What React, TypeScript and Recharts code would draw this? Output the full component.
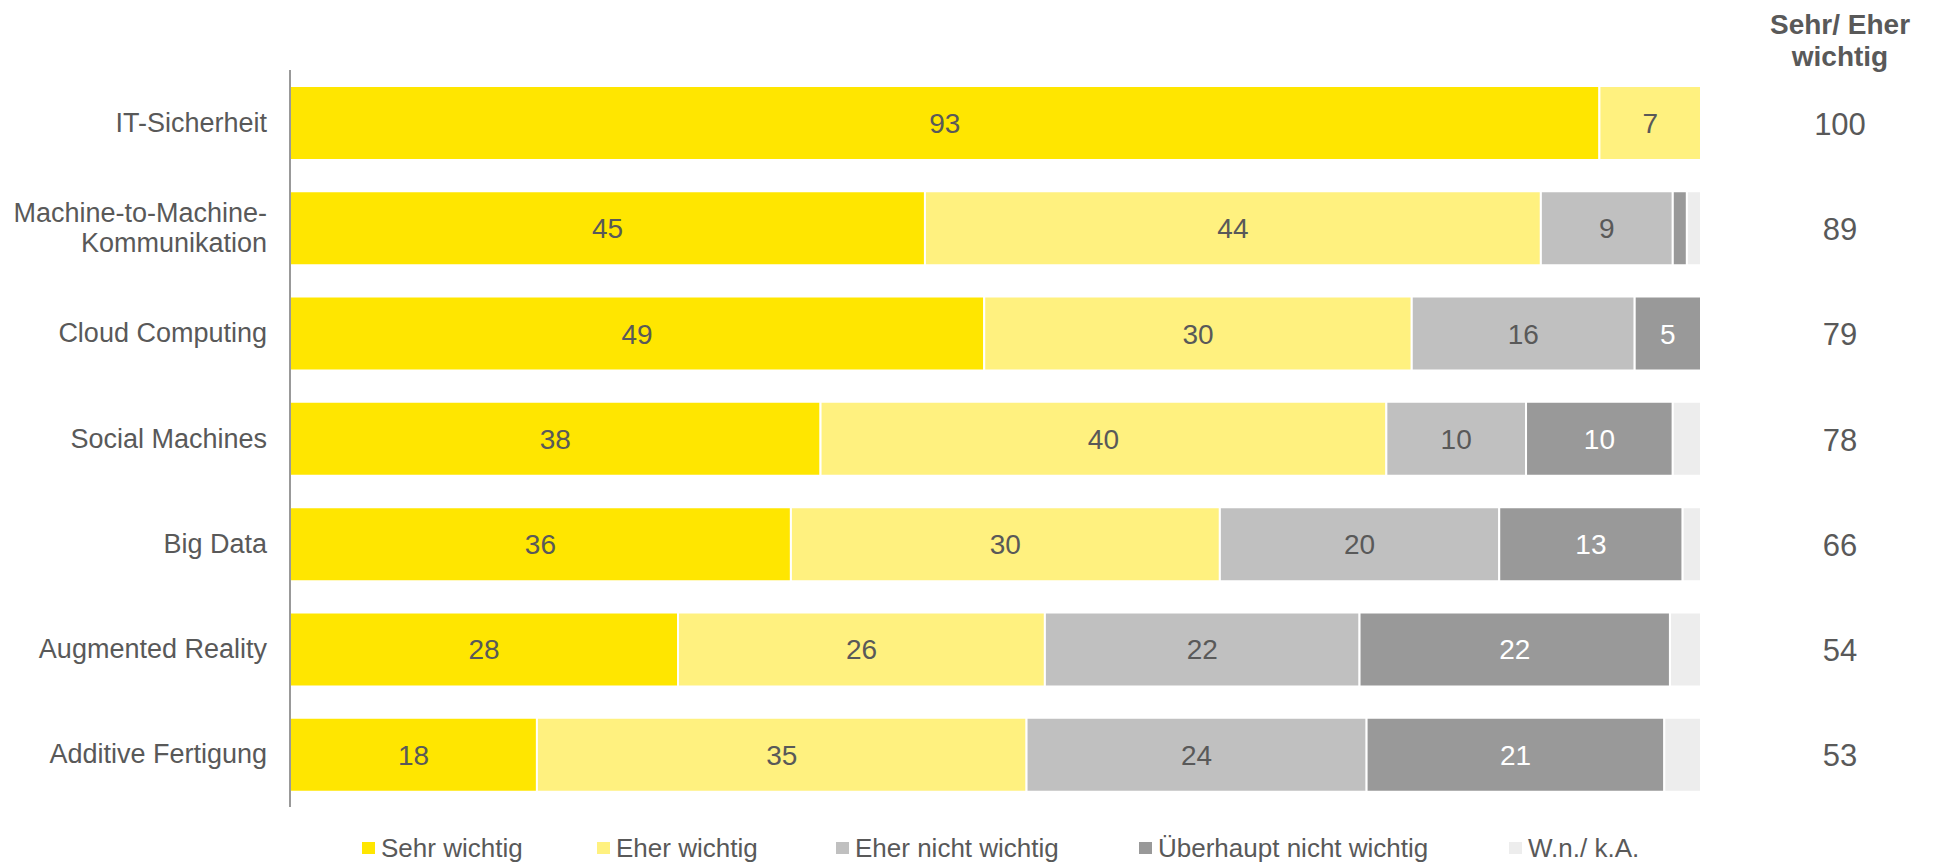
import React from "react";
import { BarChart, Bar, XAxis, YAxis, LabelList } from "recharts";

// Werte (Angaben in Prozent, Balkenlängen geschätzt)
const categories = [
  "IT-Sicherheit",
  "Machine-to-Machine-\nKommunikation",
  "Cloud Computing",
  "Social Machines",
  "Big Data",
  "Augmented Reality",
  "Additive Fertigung",
];
const sehrWichtig = [92.8, 45, 49.2, 37.6, 35.5, 27.5, 17.5];
const eherWichtig = [7.2, 43.65, 30.3, 40.1, 30.4, 26, 34.7];
const eherNichtWichtig = [0, 9.35, 15.8, 9.9, 19.8, 22.3, 24.1];
const ueberhauptNichtWichtig = [0, 1, 4.7, 10.4, 13, 22, 21.1];
const wnKa = [0, 1, 0, 2, 1.3, 2.2, 2.6];
const sehrEherWichtig = [100, 89, 79, 78, 66, 54, 53];

const seriesKeys = ["sehr", "eher", "eherNicht", "ueberhaupt", "wnka"];
const seriesNames = [
  "Sehr wichtig",
  "Eher wichtig",
  "Eher nicht wichtig",
  "Überhaupt nicht wichtig",
  "W.n./ k.A.",
];
const seriesColors = ["#FFE600", "#FFF17F", "#C0C0C0", "#999999", "#EDEDED"];
const labelColors = ["#595959", "#595959", "#595959", "#FFFFFF", "#595959"];

const data = categories.map((name, i) => ({
  name,
  sehr: sehrWichtig[i],
  eher: eherWichtig[i],
  eherNicht: eherNichtWichtig[i],
  ueberhaupt: ueberhauptNichtWichtig[i],
  wnka: wnKa[i],
}));

const FONT = "'Liberation Sans', Arial, sans-serif";
const GRAY = "#595959";

// Legendenpositionen (Textanfang), wie im Original ungleichmäßig verteilt
const legendTextX = [381, 616, 855, 1158, 1528];

const LeftTick = (props: any) => {
  const { x, y, payload } = props;
  const lines = String(payload.value).split("\n");
  const start = lines.length === 1 ? 9 : -6;
  return (
    <text x={x - 23} y={y} textAnchor="end" fontSize={27} fontFamily={FONT} fill={GRAY}>
      {lines.map((l, i) => (
        <tspan key={i} x={x - 23} y={y + start + i * 30}>
          {l}
        </tspan>
      ))}
    </text>
  );
};

const RightTick = (props: any) => {
  const { x, y, index } = props;
  return (
    <text x={x + 139} y={y + 12} textAnchor="middle" fontSize={31} fontFamily={FONT} fill={GRAY}>
      {sehrEherWichtig[index]}
    </text>
  );
};

const segmentLabel = (color: string) => (props: any) => {
  const { x, y, width, height, value } = props;
  if (value == null || value < 3) return null;
  return (
    <text
      x={x + width / 2}
      y={y + height / 2 + 10}
      textAnchor="middle"
      fontSize={28}
      fontFamily={FONT}
      fill={color}
    >
      {Math.round(value)}
    </text>
  );
};

export default function App() {
  return (
    <div
      style={{
        position: "absolute",
        left: 0,
        top: 0,
        width: 1941,
        height: 864,
        background: "#fff",
        fontFamily: FONT,
      }}
    >
      <BarChart
        width={1941}
        height={864}
        data={data}
        layout="vertical"
        margin={{ top: 70, right: 0, bottom: 57, left: 0 }}
      >
        <XAxis type="number" domain={[0, 100]} hide />
        <YAxis
          yAxisId="left"
          type="category"
          dataKey="name"
          width={290}
          axisLine={{ stroke: "#999999", strokeWidth: 2 }}
          tickLine={false}
          tickSize={0}
          tickMargin={0}
          interval={0}
          tick={<LeftTick />}
        />
        <YAxis
          yAxisId="right"
          orientation="right"
          type="category"
          dataKey="name"
          width={240}
          axisLine={false}
          tickLine={false}
          tickSize={0}
          tickMargin={0}
          interval={0}
          tick={<RightTick />}
        />
        {seriesKeys.map((key, i) => (
          <Bar
            key={key}
            yAxisId="left"
            dataKey={key}
            name={seriesNames[i]}
            stackId="a"
            fill={seriesColors[i]}
            stroke="#FFFFFF"
            strokeWidth={2}
            barSize={74}
            isAnimationActive={false}
          >
            <LabelList dataKey={key} content={segmentLabel(labelColors[i])} />
          </Bar>
        ))}
      </BarChart>
      <svg
        width={1941}
        height={864}
        style={{ position: "absolute", left: 0, top: 0, pointerEvents: "none" }}
      >
        <text x={1840} textAnchor="middle" fontSize={28} fontWeight="bold" fontFamily={FONT} fill={GRAY}>
          <tspan x={1840} y={34}>Sehr/ Eher</tspan>
          <tspan x={1840} y={66}>wichtig</tspan>
        </text>
        {seriesNames.map((n, i) => (
          <g key={n}>
            <rect x={legendTextX[i] - 19} y={842} width={13} height={12} fill={seriesColors[i]} />
            <text x={legendTextX[i]} y={857} fontSize={26} fontFamily={FONT} fill={GRAY}>
              {n}
            </text>
          </g>
        ))}
      </svg>
    </div>
  );
}
